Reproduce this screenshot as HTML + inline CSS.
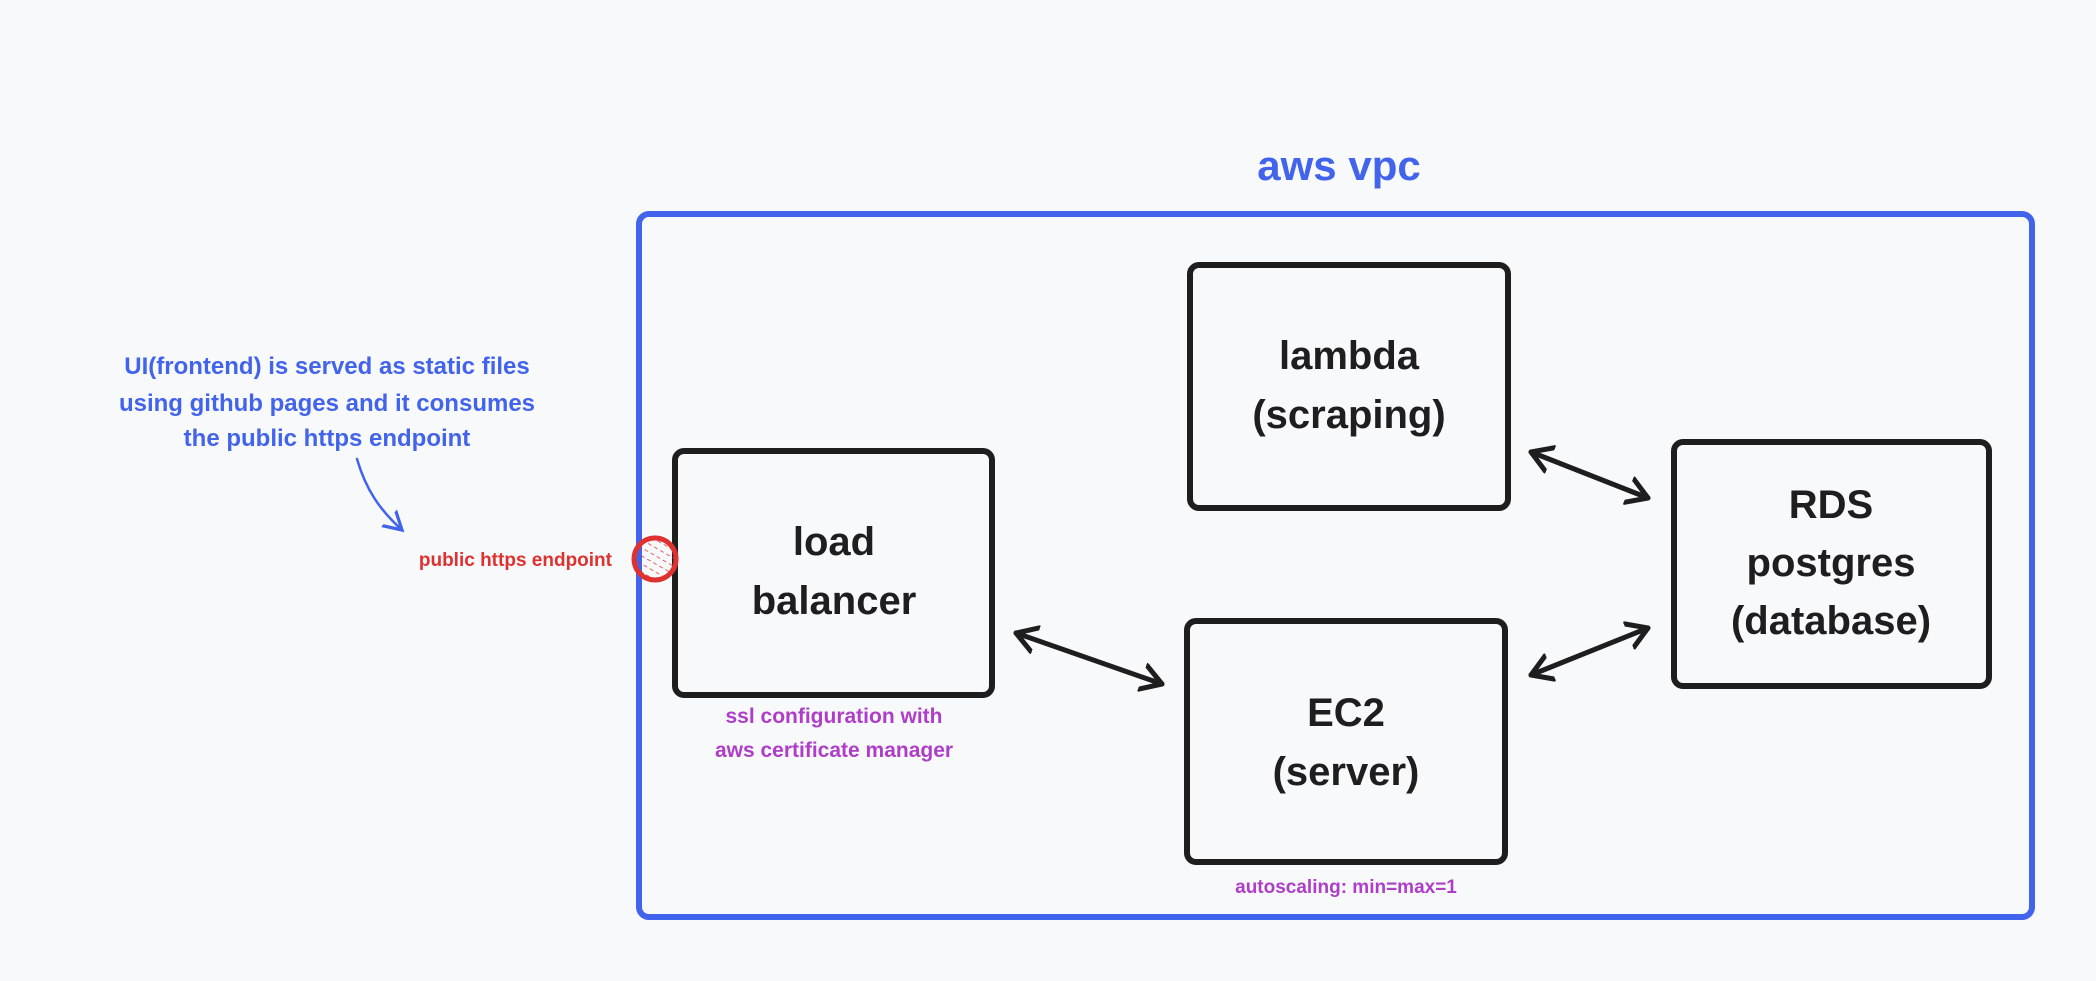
<!DOCTYPE html>
<html><head><meta charset="utf-8"><style>
html,body{margin:0;padding:0;background:#f8f9fb;}
body{width:2096px;height:981px;overflow:hidden;position:relative;font-family:"Liberation Sans",sans-serif;}
svg{position:absolute;left:0;top:0;}
</style></head><body>
<svg width="2096" height="981" viewBox="0 0 2096 981" xmlns="http://www.w3.org/2000/svg">
<defs>
<marker id="ah" markerWidth="6" markerHeight="6" refX="4.2" refY="3" orient="auto-start-reverse" markerUnits="strokeWidth">
<path d="M0,0.4 L4.2,3 L0,5.6" fill="none" stroke="#1e1e1e" stroke-width="1" stroke-linecap="round" stroke-linejoin="round"/>
</marker>
<marker id="ahb" markerWidth="10" markerHeight="10" refX="7" refY="5" orient="auto" markerUnits="strokeWidth">
<path d="M0,1 L7,5 L0,9" fill="none" stroke="#4263eb" stroke-width="1.3" stroke-linecap="round"/>
</marker>
<pattern id="hatch" width="7" height="7" patternUnits="userSpaceOnUse" patternTransform="rotate(-60)">
<line x1="0" y1="0" x2="0" y2="4" stroke="#e03131" stroke-width="1.5"/>
</pattern>
</defs>

<text x="1339" y="180" text-anchor="middle" font-size="42" font-weight="bold" fill="#4263eb">aws vpc</text>
<rect x="639" y="214" width="1393" height="703" rx="10" fill="none" stroke="#4263eb" stroke-width="6"/>

<g fill="none" stroke="#1e1e1e" stroke-width="6">
<rect x="675" y="451" width="317" height="244" rx="9"/>
<rect x="1190" y="265" width="318" height="243" rx="9"/>
<rect x="1674" y="442" width="315" height="244" rx="9"/>
<rect x="1187" y="621" width="318" height="241" rx="9"/>
</g>

<g font-size="40" font-weight="bold" fill="#1e1e1e" text-anchor="middle">
<text x="834" y="555">load</text>
<text x="834" y="614">balancer</text>
<text x="1349" y="369">lambda</text>
<text x="1349" y="428">(scraping)</text>
<text x="1831" y="518">RDS</text>
<text x="1831" y="576">postgres</text>
<text x="1831" y="634">(database)</text>
<text x="1346" y="726">EC2</text>
<text x="1346" y="785">(server)</text>
</g>

<g stroke="#1e1e1e" stroke-width="5" stroke-linecap="round" fill="none">
<line x1="1016" y1="633" x2="1162" y2="684" marker-start="url(#ah)" marker-end="url(#ah)"/>
<line x1="1531" y1="452" x2="1648" y2="498" marker-start="url(#ah)" marker-end="url(#ah)"/>
<line x1="1531" y1="675" x2="1648" y2="628" marker-start="url(#ah)" marker-end="url(#ah)"/>
</g>

<circle cx="655" cy="559" r="21" fill="url(#hatch)" stroke="#e03131" stroke-width="5"/>
<text x="612" y="566" text-anchor="end" font-size="19" font-weight="bold" fill="#e03131">public https endpoint</text>

<g font-size="24" font-weight="bold" fill="#4263eb" text-anchor="middle">
<text x="327" y="374">UI(frontend) is served as static files</text>
<text x="327" y="411">using github pages and it consumes</text>
<text x="327" y="446">the public https endpoint</text>
</g>
<path d="M357,459 C366,490 380,510 402,530" fill="none" stroke="#4263eb" stroke-width="2.5" stroke-linecap="round" marker-end="url(#ahb)"/>

<g font-size="21" font-weight="bold" fill="#ae3ec9" text-anchor="middle">
<text x="834" y="723">ssl configuration with</text>
<text x="834" y="757">aws certificate manager</text>
<text x="1346" y="893" font-size="19">autoscaling: min=max=1</text>
</g>
</svg>
</body></html>
